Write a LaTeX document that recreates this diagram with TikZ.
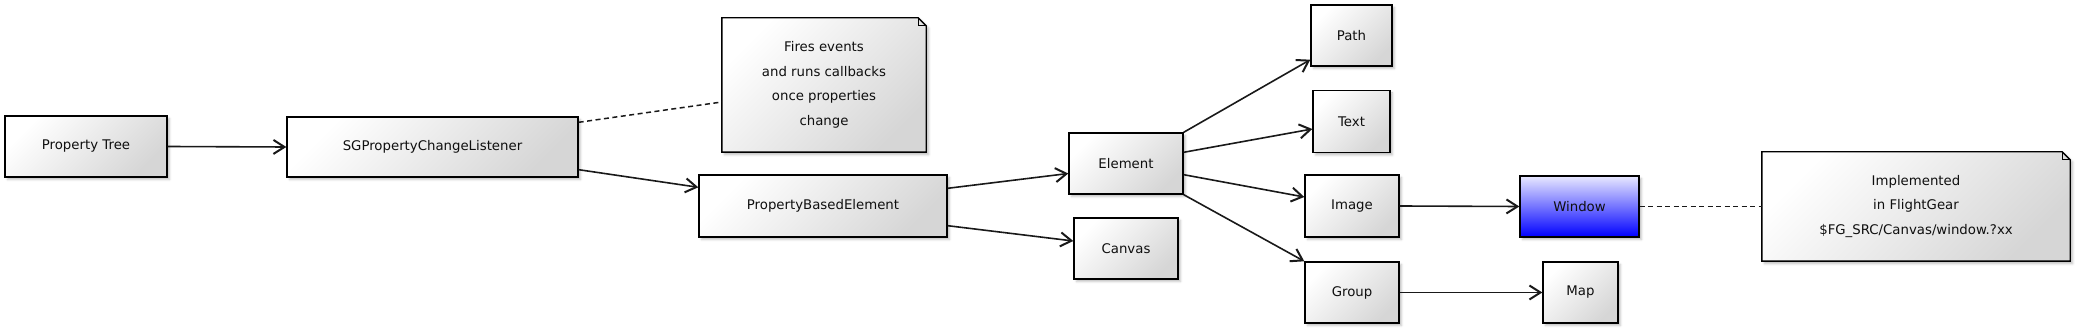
\documentclass[tikz,border=0pt]{standalone}
\usepackage{fontspec}
\setmainfont{DejaVu Sans}
\usetikzlibrary{arrows.meta,shadows.blur,backgrounds}
\definecolor{boxGray} {RGB}{214,214,214}
\definecolor{winBlue} {RGB}{0,0,255}
\definecolor{winPale} {RGB}{232,232,255}
\definecolor{txtDark} {RGB}{15,15,15}

\begin{document}
\begin{tikzpicture}[x=1pt,y=-1pt,
          sz/.style 2 args={minimum width=#1pt,minimum height=#2pt},
          cls/.style={draw=black,line width=1.4pt,shading=axis,top color=white,
                      bottom color=boxGray,shading angle=45,text=txtDark,
                      font=\fontsize{13.3}{24.5}\selectfont,inner sep=0pt,
                      blur shadow={shadow xshift=2.5pt,shadow yshift=-2.5pt,
                                   shadow opacity=25}},
          winno/.style={cls,top color=winPale,bottom color=winBlue},
          noteno/.style={inner sep=0pt,align=center,text=txtDark,
                      font=\fontsize{13.3}{24.5}\selectfont},
          notebg/.style={draw=black,line width=1.4pt,shading=axis,top color=white,
                      bottom color=boxGray,shading angle=45,
                      blur shadow={shadow xshift=2.5pt,shadow yshift=-2.5pt,
                                   shadow opacity=25}},
          assoc/.style={line width=1.6pt,black!90,
                      -{Straight Barb[length=11pt,width=14pt,line width=2pt]}},
          link/.style={line width=1.5pt,black!90,dash pattern=on 5pt off 3.5pt},
        ]
        \useasboundingbox (0,0) rectangle (2077,328);

        % classes
        \node[cls,sz={162}{61}](ptree)    at (86,146.5)   {Property Tree};
        \node[cls,sz={291}{60}](listener) at (432.5,147)  {SGPropertyChangeListener};
        \node[cls,sz={248}{62}](propel)   at (823,206)    {PropertyBasedElement};
        \node[cls,sz={114}{61}](elem)     at (1126,163.5) {Element};
        \node[cls,sz={104}{61}](canvas)   at (1126,248.5) {Canvas};
        \node[cls,sz={81}{61}] (pathel)   at (1351.5,35.5){Path};
        \node[cls,sz={77}{62}] (textel)   at (1351.5,121.5){Text};
        \node[cls,sz={94}{62}] (imageel)  at (1352,206)   {Image};
        \node[cls,sz={94}{61}] (groupel)  at (1352,292.5) {Group};
        \node[winno,sz={119}{61}](window) at (1579.5,206.5){Window};
        \node[cls,sz={75}{61}] (map)      at (1580.5,292.5){Map};

        % notes
        \node[noteno,sz={204}{134}](note1) at (824,85)
          {Fires events\\and runs callbacks\\once properties\\change};
        \node[noteno,sz={308}{109}](note2) at (1916,206.5)
          {Implemented\\in FlightGear\\\$FG\_SRC/Canvas/window.?xx};
        \begin{scope}[on background layer]
          \foreach \n in {note1,note2}{
            \draw[notebg] (\n.north west) -- ([xshift=-8pt]\n.north east)
              -- ([yshift=-8pt]\n.north east) -- (\n.south east)
              -- (\n.south west) -- cycle;
            \draw[line width=1.1pt] ([xshift=-8pt]\n.north east)
              |- ([yshift=-8pt]\n.north east);
          }
        \end{scope}

        % connectors
        \draw[assoc](ptree.east)--(listener.west);
        \draw[assoc]([yshift=8pt]listener.south east)--([yshift=-13pt]propel.north west);
        \draw[assoc]([yshift=-14pt]propel.north east)--([yshift=-10pt]elem.west);
        \draw[assoc]([yshift=12pt]propel.south east)--([yshift=7.5pt]canvas.west);
        \draw[assoc](elem.north east)--([yshift=7pt]pathel.south west);
        \draw[assoc]([yshift=-20pt]elem.north east)--([yshift=-7.5pt]textel.west);
        \draw[assoc]([yshift=20pt]elem.south east)--([yshift=9pt]imageel.west);
        \draw[assoc](elem.south east)--(groupel.north west);
        \draw[assoc](imageel.east)--(window.west);
        \draw[assoc](groupel.east)--(map.west);
        \draw[link]([yshift=-6pt]listener.north east)--([yshift=-17pt]note1.west);
        \draw[link](window.east)--(note2.west);
      \end{tikzpicture}
\end{document}
